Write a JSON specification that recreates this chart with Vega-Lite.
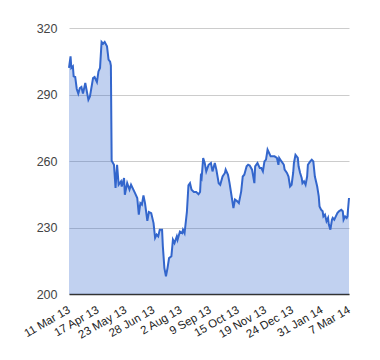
{
  "$schema": "https://vega.github.io/schema/vega-lite/v6.json",
  "autosize": "none",
  "width": 280,
  "height": 266,
  "padding": {"left": 69, "top": 28, "right": 31, "bottom": 66},
  "background": "white",
  "config": {
    "view": {"stroke": null},
    "font": "Liberation Sans"
  },
  "data": {
    "values": [
      {"date": "2013-03-11", "price": 302},
      {"date": "2013-03-13", "price": 307.2},
      {"date": "2013-03-14", "price": 302},
      {"date": "2013-03-16", "price": 302.7},
      {"date": "2013-03-17", "price": 298.2},
      {"date": "2013-03-19", "price": 297.9},
      {"date": "2013-03-21", "price": 292.5},
      {"date": "2013-03-23", "price": 290.4},
      {"date": "2013-03-25", "price": 292.9},
      {"date": "2013-03-27", "price": 293.4},
      {"date": "2013-03-29", "price": 290.4},
      {"date": "2013-04-01", "price": 295.2},
      {"date": "2013-04-03", "price": 291.4},
      {"date": "2013-04-05", "price": 287.6},
      {"date": "2013-04-07", "price": 289.1},
      {"date": "2013-04-11", "price": 297.4},
      {"date": "2013-04-13", "price": 297.9},
      {"date": "2013-04-16", "price": 295.6},
      {"date": "2013-04-18", "price": 300.4},
      {"date": "2013-04-20", "price": 302},
      {"date": "2013-04-22", "price": 313.7},
      {"date": "2013-04-24", "price": 312.9},
      {"date": "2013-04-26", "price": 313.7},
      {"date": "2013-04-29", "price": 311.7},
      {"date": "2013-05-01", "price": 305.7},
      {"date": "2013-05-03", "price": 304.8},
      {"date": "2013-05-04", "price": 303},
      {"date": "2013-05-05", "price": 260.1},
      {"date": "2013-05-08", "price": 258.3},
      {"date": "2013-05-10", "price": 247.8},
      {"date": "2013-05-12", "price": 258.3},
      {"date": "2013-05-14", "price": 249.3},
      {"date": "2013-05-17", "price": 250.8},
      {"date": "2013-05-18", "price": 248.5},
      {"date": "2013-05-21", "price": 252.3},
      {"date": "2013-05-22", "price": 244.8},
      {"date": "2013-05-25", "price": 250.1},
      {"date": "2013-05-28", "price": 247.1},
      {"date": "2013-05-30", "price": 249.3},
      {"date": "2013-06-02", "price": 247.1},
      {"date": "2013-06-04", "price": 245.6},
      {"date": "2013-06-07", "price": 243.3},
      {"date": "2013-06-09", "price": 235.8},
      {"date": "2013-06-11", "price": 241},
      {"date": "2013-06-13", "price": 240.3},
      {"date": "2013-06-15", "price": 244.5},
      {"date": "2013-06-17", "price": 241},
      {"date": "2013-06-20", "price": 233},
      {"date": "2013-06-22", "price": 237},
      {"date": "2013-06-25", "price": 236.5},
      {"date": "2013-06-28", "price": 232},
      {"date": "2013-06-30", "price": 225.3},
      {"date": "2013-07-02", "price": 226.8},
      {"date": "2013-07-04", "price": 226},
      {"date": "2013-07-06", "price": 229},
      {"date": "2013-07-09", "price": 229},
      {"date": "2013-07-10", "price": 221.5},
      {"date": "2013-07-12", "price": 211.7},
      {"date": "2013-07-14", "price": 208},
      {"date": "2013-07-16", "price": 211.7},
      {"date": "2013-07-18", "price": 216.2},
      {"date": "2013-07-21", "price": 217},
      {"date": "2013-07-23", "price": 224.5},
      {"date": "2013-07-25", "price": 223},
      {"date": "2013-07-28", "price": 226},
      {"date": "2013-07-29", "price": 224.5},
      {"date": "2013-08-01", "price": 228.2},
      {"date": "2013-08-04", "price": 227.5},
      {"date": "2013-08-05", "price": 229},
      {"date": "2013-08-07", "price": 227.5},
      {"date": "2013-08-10", "price": 237},
      {"date": "2013-08-12", "price": 249},
      {"date": "2013-08-14", "price": 250},
      {"date": "2013-08-16", "price": 247},
      {"date": "2013-08-19", "price": 246},
      {"date": "2013-08-22", "price": 246},
      {"date": "2013-08-25", "price": 245},
      {"date": "2013-08-27", "price": 246},
      {"date": "2013-08-28", "price": 253},
      {"date": "2013-08-29", "price": 252.3},
      {"date": "2013-08-31", "price": 261.3},
      {"date": "2013-09-02", "price": 259.1},
      {"date": "2013-09-04", "price": 255.3},
      {"date": "2013-09-07", "price": 258.3},
      {"date": "2013-09-10", "price": 259.1},
      {"date": "2013-09-12", "price": 255.3},
      {"date": "2013-09-15", "price": 259.1},
      {"date": "2013-09-17", "price": 256.1},
      {"date": "2013-09-20", "price": 250},
      {"date": "2013-09-22", "price": 249.3},
      {"date": "2013-09-25", "price": 253},
      {"date": "2013-09-28", "price": 254.6},
      {"date": "2013-09-29", "price": 256.1},
      {"date": "2013-10-02", "price": 253.8},
      {"date": "2013-10-04", "price": 250},
      {"date": "2013-10-07", "price": 243.3},
      {"date": "2013-10-09", "price": 238.8},
      {"date": "2013-10-11", "price": 242.6},
      {"date": "2013-10-14", "price": 241.8},
      {"date": "2013-10-16", "price": 241},
      {"date": "2013-10-19", "price": 246.3},
      {"date": "2013-10-21", "price": 253},
      {"date": "2013-10-23", "price": 253.8},
      {"date": "2013-10-26", "price": 257.6},
      {"date": "2013-10-28", "price": 258.3},
      {"date": "2013-10-30", "price": 258},
      {"date": "2013-11-02", "price": 256.1},
      {"date": "2013-11-05", "price": 250},
      {"date": "2013-11-06", "price": 257.6},
      {"date": "2013-11-09", "price": 259.1},
      {"date": "2013-11-12", "price": 256.8},
      {"date": "2013-11-14", "price": 256.8},
      {"date": "2013-11-16", "price": 255.3},
      {"date": "2013-11-18", "price": 259.8},
      {"date": "2013-11-20", "price": 260.6},
      {"date": "2013-11-22", "price": 265.1},
      {"date": "2013-11-24", "price": 263.6},
      {"date": "2013-11-26", "price": 262.1},
      {"date": "2013-11-29", "price": 262.1},
      {"date": "2013-12-01", "price": 262.1},
      {"date": "2013-12-04", "price": 261.4},
      {"date": "2013-12-06", "price": 258.3},
      {"date": "2013-12-07", "price": 261.4},
      {"date": "2013-12-10", "price": 259.8},
      {"date": "2013-12-13", "price": 258.3},
      {"date": "2013-12-14", "price": 256.1},
      {"date": "2013-12-17", "price": 254.6},
      {"date": "2013-12-19", "price": 253},
      {"date": "2013-12-21", "price": 248.5},
      {"date": "2013-12-23", "price": 249.3},
      {"date": "2013-12-25", "price": 254.6},
      {"date": "2013-12-26", "price": 259.1},
      {"date": "2013-12-28", "price": 262.8},
      {"date": "2013-12-31", "price": 261.4},
      {"date": "2014-01-01", "price": 257.6},
      {"date": "2014-01-03", "price": 254.6},
      {"date": "2014-01-05", "price": 252.3},
      {"date": "2014-01-06", "price": 250},
      {"date": "2014-01-08", "price": 250.8},
      {"date": "2014-01-10", "price": 249.3},
      {"date": "2014-01-12", "price": 253},
      {"date": "2014-01-13", "price": 258.3},
      {"date": "2014-01-16", "price": 259.8},
      {"date": "2014-01-18", "price": 260.6},
      {"date": "2014-01-20", "price": 259.8},
      {"date": "2014-01-22", "price": 253},
      {"date": "2014-01-25", "price": 248.5},
      {"date": "2014-01-27", "price": 244},
      {"date": "2014-01-28", "price": 239.5},
      {"date": "2014-01-30", "price": 238},
      {"date": "2014-02-01", "price": 237.3},
      {"date": "2014-02-02", "price": 235},
      {"date": "2014-02-04", "price": 235.8},
      {"date": "2014-02-06", "price": 232.8},
      {"date": "2014-02-08", "price": 234.3},
      {"date": "2014-02-09", "price": 231.3},
      {"date": "2014-02-11", "price": 229},
      {"date": "2014-02-13", "price": 233.5},
      {"date": "2014-02-14", "price": 234.3},
      {"date": "2014-02-16", "price": 233.5},
      {"date": "2014-02-18", "price": 235},
      {"date": "2014-02-20", "price": 236.5},
      {"date": "2014-02-22", "price": 237.3},
      {"date": "2014-02-25", "price": 238},
      {"date": "2014-02-27", "price": 237.3},
      {"date": "2014-02-28", "price": 233.5},
      {"date": "2014-03-02", "price": 235},
      {"date": "2014-03-04", "price": 234.3},
      {"date": "2014-03-05", "price": 235},
      {"date": "2014-03-07", "price": 243.3}
    ]
  },
  "encoding": {
    "x": {
      "field": "date",
      "type": "temporal",
      "scale": {
        "type": "utc",
        "domain": [
          {"year": 2013, "month": "mar", "date": 11, "utc": true},
          {"year": 2014, "month": "mar", "date": 7, "utc": true}
        ],
        "nice": false
      },
      "axis": {
        "title": null,
        "values": [
          {"year": 2013, "month": "mar", "date": 11, "utc": true},
          {"year": 2013, "month": "apr", "date": 17, "utc": true},
          {"year": 2013, "month": "may", "date": 23, "utc": true},
          {"year": 2013, "month": "jun", "date": 28, "utc": true},
          {"year": 2013, "month": "aug", "date": 2, "utc": true},
          {"year": 2013, "month": "sep", "date": 9, "utc": true},
          {"year": 2013, "month": "oct", "date": 15, "utc": true},
          {"year": 2013, "month": "nov", "date": 19, "utc": true},
          {"year": 2013, "month": "dec", "date": 24, "utc": true},
          {"year": 2014, "month": "jan", "date": 31, "utc": true},
          {"year": 2014, "month": "mar", "date": 7, "utc": true}
        ],
        "format": "%-d %b %y",
        "labelAngle": -30,
        "labelAlign": "right",
        "labelBaseline": "middle",
        "labelFontSize": 11.5,
        "labelColor": "#222222",
        "labelPadding": 15,
        "labelOverlap": false,
        "labelFlush": false,
        "ticks": false,
        "grid": false,
        "domainColor": "#333333",
        "domainWidth": 1.5
      }
    },
    "y": {
      "field": "price",
      "type": "quantitative",
      "scale": {"domain": [200, 320], "nice": false, "zero": false},
      "axis": {
        "title": null,
        "values": [200, 230, 260, 290, 320],
        "ticks": false,
        "domain": false,
        "gridColor": "#cccccc",
        "labelFontSize": 12.5,
        "labelColor": "#444444",
        "labelPadding": 12
      }
    }
  },
  "layer": [
    {
      "mark": {"type": "area", "color": "#3366cc", "fillOpacity": 0.3, "interpolate": "linear"},
      "encoding": {"y2": {"datum": 200}}
    },
    {"mark": {"type": "line", "color": "#3366cc", "strokeWidth": 2, "interpolate": "linear"}}
  ]
}
